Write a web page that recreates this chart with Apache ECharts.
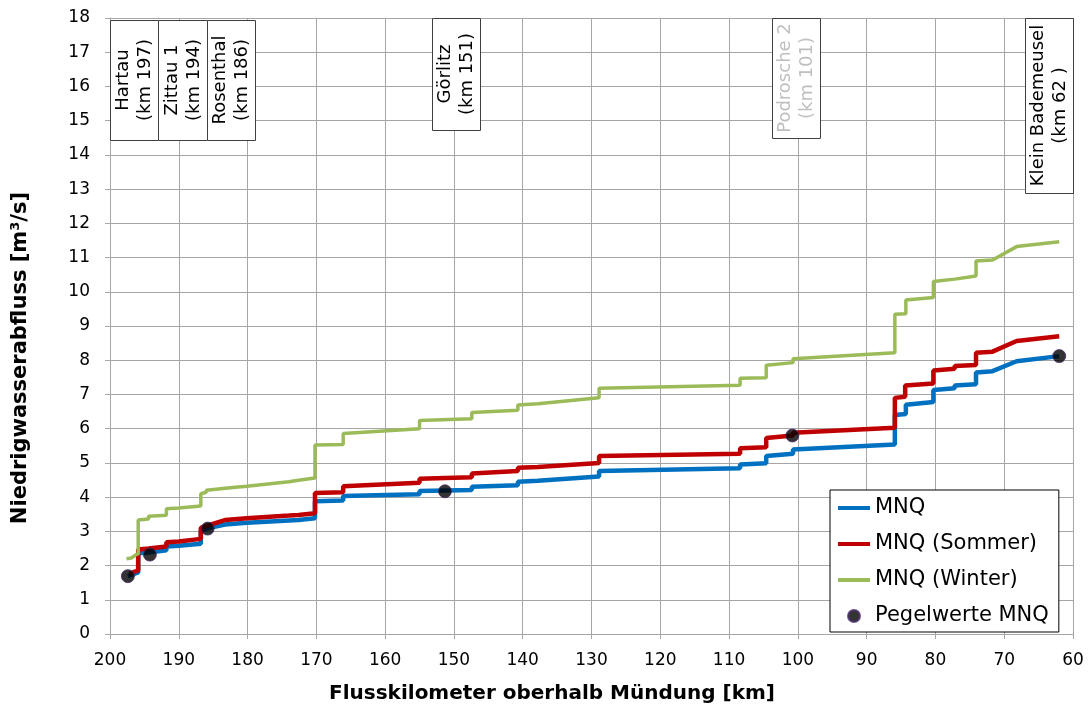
<!DOCTYPE html>
<html>
<head>
<meta charset="utf-8">
<script src="https://cdn.jsdelivr.net/npm/echarts@6/dist/echarts.min.js"></script>
<style>
  html, body { margin: 0; padding: 0; background: #fff; }
  #chart { width: 1090px; height: 720px; }
</style>
</head>
<body>
<div id="chart"></div>
<script>
// MNQ (gesamt) – Flusskilometer / Abfluss
const mnqKm  = [197.4,196.4,195.9,195.9,194.4,191.8,191.8,190.0,190.0,186.8,186.8,186.0,183.3,180.1,172.6,170.2,170.2,166.1,166.1,155.0,155.0,147.4,147.4,140.7,140.7,137.8,137.8,128.9,128.9,108.4,108.4,104.6,104.6,100.7,100.7,85.9,85.9,84.3,84.3,80.3,80.3,77.2,77.2,74.1,74.1,71.7,68.2,62.0];
const mnqVal = [1.69,1.76,1.80,2.36,2.38,2.45,2.56,2.58,2.62,2.64,3.02,3.08,3.20,3.25,3.33,3.38,3.88,3.90,4.03,4.08,4.18,4.21,4.30,4.35,4.45,4.48,4.52,4.60,4.76,4.84,4.95,4.99,5.20,5.27,5.39,5.54,6.40,6.43,6.70,6.78,7.13,7.18,7.26,7.30,7.64,7.68,7.97,8.12];

// MNQ Sommer
const sommerKm  = [197.2,196.4,195.9,195.9,194.4,191.8,191.8,190.0,190.0,186.8,186.8,186.0,183.3,180.1,174.0,172.6,170.2,170.2,166.1,166.1,155.0,155.0,147.4,147.4,140.7,140.7,137.8,137.8,128.9,128.9,108.4,108.4,104.6,104.6,100.7,100.7,85.9,85.9,84.4,84.4,80.3,80.3,77.2,77.2,74.1,74.1,71.7,68.2,62.0];
const sommerVal = [1.76,1.82,1.86,2.47,2.50,2.56,2.68,2.70,2.75,2.78,3.10,3.16,3.33,3.38,3.46,3.48,3.53,4.12,4.14,4.32,4.42,4.54,4.58,4.69,4.76,4.86,4.88,4.93,5.00,5.20,5.27,5.43,5.46,5.73,5.80,5.88,6.03,6.90,6.93,7.26,7.32,7.70,7.75,7.83,7.86,8.22,8.25,8.56,8.70];

// MNQ Winter
const winterKm  = [197.6,196.9,196.2,195.9,195.9,194.4,194.4,191.8,191.8,190.0,190.0,186.8,186.8,186.0,186.0,181.8,180.1,180.1,174.0,172.6,170.2,170.2,166.1,166.1,155.0,155.0,147.4,147.4,140.7,140.7,137.8,137.8,128.9,128.9,108.4,108.4,104.6,104.6,100.7,100.7,85.9,85.9,84.3,84.3,80.3,80.3,77.2,77.2,74.1,74.1,71.7,68.2,62.0];
const winterVal = [2.20,2.22,2.32,2.34,3.33,3.36,3.44,3.47,3.66,3.68,3.72,3.74,4.10,4.14,4.20,4.29,4.32,4.37,4.45,4.49,4.56,5.52,5.54,5.86,6.00,6.24,6.29,6.47,6.54,6.69,6.73,6.77,6.90,7.18,7.27,7.47,7.49,7.85,7.93,8.04,8.22,9.34,9.36,9.76,9.83,10.30,10.37,10.41,10.46,10.90,10.93,11.32,11.46];

// Pegel
const pegelNames = ['Hartau', 'Zittau 1', 'Rosenthal', 'Görlitz', 'Podrosche 2', 'Klein Bademeusel'];
const pegelLabels = ['(km 197)', '(km 194)', '(km 186)', '(km 151)', '(km 101)', '(km 62 )'];
const pegelKm  = [197.4, 194.2, 185.8, 151.3, 100.8, 62.0];
const pegelVal = [1.69, 2.32, 3.08, 4.17, 5.80, 8.12];

const xTicks = { min: 60, max: 200, step: 10 };
const yTicks = { min: 0, max: 18, step: 1 };

const zip = (a, b) => a.map((v, i) => [v, b[i]]);

const FONT = '"DejaVu Sans", Verdana, sans-serif';
const GRID = '#a6a6a6';

// Beschriftungskästen der Pegel (Position in Pixeln)
const boxLayout = [
  { x: 110, y: 20, w: 48, h: 120, color: '#000' },
  { x: 158, y: 20, w: 49, h: 120, color: '#000' },
  { x: 207, y: 20, w: 48, h: 120, color: '#000' },
  { x: 432, y: 18, w: 48, h: 112, color: '#000' },
  { x: 772, y: 18, w: 48, h: 120, color: '#bfbfbf' },
  { x: 1025, y: 18, w: 48, h: 175, color: '#000' }
];

const boxes = [];
boxLayout.forEach((b, i) => {
  boxes.push({
    type: 'rect',
    z: 100,
    shape: { x: b.x + 0.5, y: b.y + 0.5, width: b.w, height: b.h },
    style: { fill: '#fff', stroke: '#404040', lineWidth: 1 }
  });
  boxes.push({
    type: 'text',
    z: 101,
    x: b.x + b.w / 2 + 0.5,
    y: b.y + b.h / 2,
    rotation: Math.PI / 2,
    style: {
      text: pegelNames[i] + '\n' + pegelLabels[i],
      font: '18px ' + FONT,
      fill: b.color,
      align: 'center',
      verticalAlign: 'middle',
      lineHeight: 22
    }
  });
});

const chart = echarts.init(document.getElementById('chart'));

const hideSymbol = { opacity: 0 };
const legendLine = { width: 4 };

chart.setOption({
  animation: false,
  backgroundColor: '#fff',
  textStyle: { fontFamily: FONT },
  grid: { left: 110, right: 17, top: 18, bottom: 86 },
  xAxis: {
    type: 'value',
    inverse: true,
    min: xTicks.min,
    max: xTicks.max,
    interval: xTicks.step,
    axisLine: { show: true, lineStyle: { color: GRID, width: 1 } },
    axisTick: { show: true, length: 5, lineStyle: { color: GRID } },
    splitLine: { show: true, lineStyle: { color: GRID, width: 1 } },
    axisLabel: { color: '#000', fontSize: 17, fontFamily: FONT, margin: 18 }
  },
  yAxis: {
    type: 'value',
    min: yTicks.min,
    max: yTicks.max,
    interval: yTicks.step,
    axisLine: { show: true, lineStyle: { color: GRID, width: 1 } },
    axisTick: { show: true, length: 5, lineStyle: { color: GRID } },
    splitLine: { show: true, lineStyle: { color: GRID, width: 1 } },
    axisLabel: { color: '#000', fontSize: 17, fontFamily: FONT, margin: 20 }
  },
  legend: {
    orient: 'vertical',
    left: 830,
    top: 490,
    padding: [6, 10, 4, 6],
    itemGap: 12,
    itemWidth: 32,
    itemHeight: 12,
    backgroundColor: '#fff',
    borderColor: '#000',
    borderWidth: 1,
    textStyle: { fontSize: 21, color: '#000', fontFamily: FONT, lineHeight: 24 },
    data: [
      { name: 'MNQ', itemStyle: hideSymbol, lineStyle: legendLine },
      { name: 'MNQ (Sommer)', itemStyle: hideSymbol, lineStyle: legendLine },
      { name: 'MNQ (Winter)', itemStyle: hideSymbol, lineStyle: legendLine },
      { name: 'Pegelwerte MNQ' }
    ]
  },
  graphic: [
    {
      type: 'text',
      x: 552,
      y: 694,
      style: {
        text: 'Flusskilometer oberhalb Mündung [km]',
        font: 'bold 20px ' + FONT,
        fill: '#000',
        align: 'center',
        verticalAlign: 'middle'
      }
    },
    {
      type: 'text',
      x: 21,
      y: 358,
      rotation: Math.PI / 2,
      style: {
        text: 'Niedrigwasserabfluss [m³/s]',
        font: 'bold 21px ' + FONT,
        fill: '#000',
        align: 'center',
        verticalAlign: 'middle'
      }
    }
  ].concat(boxes),
  series: [
    {
      name: 'MNQ',
      type: 'line',
      data: zip(mnqKm, mnqVal),
      symbol: 'none',
      lineStyle: { color: '#0070c0', width: 4.5 },
      itemStyle: { color: '#0070c0' }
    },
    {
      name: 'MNQ (Sommer)',
      type: 'line',
      data: zip(sommerKm, sommerVal),
      symbol: 'none',
      lineStyle: { color: '#c00000', width: 4.5 },
      itemStyle: { color: '#c00000' }
    },
    {
      name: 'MNQ (Winter)',
      type: 'line',
      data: zip(winterKm, winterVal),
      symbol: 'none',
      lineStyle: { color: '#9bbb59', width: 3.5 },
      itemStyle: { color: '#9bbb59' }
    },
    {
      name: 'Pegelwerte MNQ',
      type: 'scatter',
      data: zip(pegelKm, pegelVal),
      symbol: 'circle',
      symbolSize: 13,
      z: 5,
      itemStyle: { color: '#000', borderColor: '#4b2c6f', borderWidth: 1 }
    }
  ]
});
</script>
</body>
</html>
